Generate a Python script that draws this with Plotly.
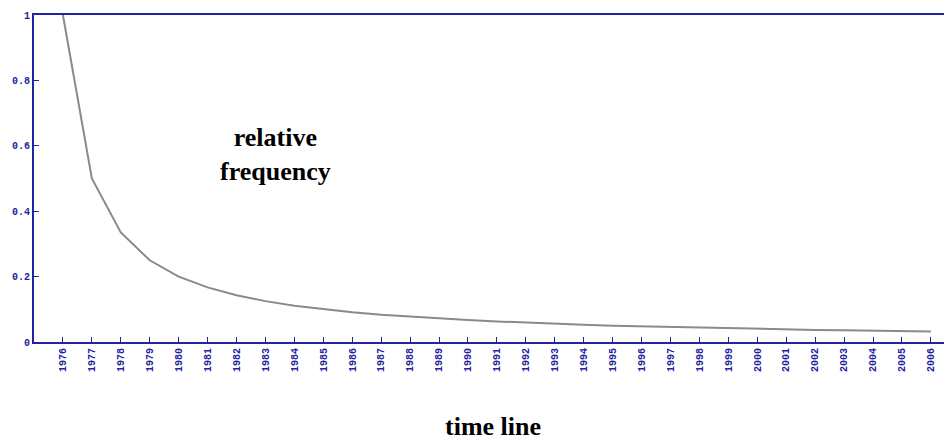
import plotly.graph_objects as go

years = [str(y) for y in range(1976, 2007)]
rel_freq = [1.0, 0.5, 0.335, 0.25, 0.2, 0.167, 0.143, 0.125, 0.111, 0.1,
            0.091, 0.083, 0.077, 0.071, 0.067, 0.063, 0.059, 0.056, 0.053, 0.05,
            0.048, 0.045, 0.043, 0.042, 0.04, 0.038, 0.037, 0.036, 0.034, 0.033,
            0.032]
y_tickvals = [0, 0.2, 0.4, 0.6, 0.8, 1]
y_ticktext = ["0", "0.2", "0.4", "0.6", "0.8", "1"]

axis_blue = "#22229e"
tick_font = dict(family="Liberation Mono", size=10, color=axis_blue, weight="bold")
title_font = dict(family="Liberation Serif", size=26, color="black", weight="bold")

fig = go.Figure()
fig.add_trace(go.Scatter(x=years, y=rel_freq, mode="lines",
                         line=dict(color="#8a8a8a", width=2), showlegend=False))

# page body has an 8px default margin, so the figure is sized to compensate
fig.update_layout(
    width=944, height=433,
    margin=dict(l=26, r=0, t=7, b=99),
    plot_bgcolor="white", paper_bgcolor="white",
    xaxis=dict(type="category", range=[-1.0, 30.73], showgrid=False, zeroline=False,
               automargin=False,
               showline=True, linecolor=axis_blue, linewidth=2, mirror=True,
               ticks="inside", ticklen=5, tickcolor=axis_blue, tickwidth=1,
               tickangle=-90, tickfont=tick_font),
    yaxis=dict(range=[0, 1], showgrid=False, zeroline=False, automargin=False,
               showline=True, linecolor=axis_blue, linewidth=2,
               ticks="inside", ticklen=5, tickcolor=axis_blue, tickwidth=1,
               tickvals=y_tickvals, ticktext=y_ticktext, tickfont=tick_font),
    annotations=[
        dict(text="relative<br>frequency", xref="paper", yref="paper",
             x=0.2636, y=0.572, xanchor="center", yanchor="middle",
             showarrow=False, font=title_font),
        dict(text="time line", xref="paper", yref="paper",
             x=0.5, y=-0.257, xanchor="center", yanchor="middle",
             showarrow=False, font=title_font),
    ],
)

fig.write_html("out.html")
